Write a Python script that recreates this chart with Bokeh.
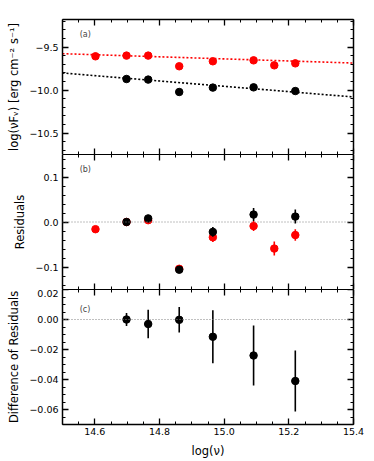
import numpy as np
from bokeh.plotting import figure
from bokeh.layouts import column
from bokeh.models import (Range1d, LinearAxis, SingleIntervalTicker,
                          CustomJSTickFormatter, Label, Span)
from bokeh.embed import file_html
from bokeh.resources import INLINE

# ---------------- data ----------------
x_red = [14.602, 14.698, 14.765, 14.861, 14.965, 15.091, 15.155, 15.220]
flux_red = [-9.608, -9.600, -9.600, -9.724, -9.666, -9.655, -9.713, -9.690]
x_black = [14.698, 14.765, 14.861, 14.965, 15.091, 15.220]
flux_black = [-9.872, -9.879, -10.023, -9.972, -9.969, -10.012]

# linear fits: slope, value at pivot
fit_pivot = 15.0
fit_red = (-0.121, -9.638)
fit_black = (-0.310, -9.957)

res_red = [-0.016, 0.000, 0.004, -0.104, -0.034, -0.009, -0.059, -0.029]
res_red_err = [0.003, 0.003, 0.003, 0.003, 0.0105, 0.011, 0.0155, 0.0127]
res_black = [0.000, 0.008, -0.106, -0.022, 0.0165, 0.012]
res_black_err = [0.003, 0.004, 0.003, 0.011, 0.0145, 0.0156]

diff_res = [0.000, -0.003, -0.0002, -0.0115, -0.024, -0.041]
diff_res_err = [0.0044, 0.0095, 0.0085, 0.0176, 0.020, 0.0204]

x_label = "log(ν)"
ya_label = "log(νFᵥ) [erg cm⁻² s⁻¹]"
yb_label = "Residuals"
yc_label = "Difference of Residuals"

# ---------------- styling helpers ----------------
FONT = "DejaVu Sans"
RED = "#ff0000"


def fmt(digits):
    return CustomJSTickFormatter(args=dict(d=digits), code="""
        if (Math.abs(tick) < 1e-9) { return (0).toFixed(d); }
        return (tick < 0 ? "\\u2212" : "") + Math.abs(tick).toFixed(d);
    """)


def style_axis(ax, labels, lw=1.5):
    ax.major_tick_in = 6
    ax.major_tick_out = 0
    ax.minor_tick_in = 3
    ax.minor_tick_out = 0
    ax.axis_line_width = lw
    ax.axis_line_color = "black"
    ax.major_tick_line_width = 1.3
    ax.minor_tick_line_width = 1.0
    ax.major_label_text_font = FONT
    ax.axis_label_text_font = FONT
    ax.axis_label_text_font_style = "normal"
    ax.axis_label_text_font_size = "11.5px"
    ax.axis_label_text_color = "black"
    if labels:
        ax.major_label_text_color = "black"
        ax.major_label_text_font_size = "9.5px"
        ax.major_label_standoff = 4
        ax.axis_label_standoff = 5
    else:
        ax.major_label_text_color = None
        ax.major_label_text_font_size = "0px"
        ax.major_label_standoff = 0
        ax.axis_label_standoff = 0


xr = Range1d(14.5, 15.4)


def make_panel(yr, y_interval, y_minor, digits, top_border, bottom_labels,
               ylabel, top_lw, bottom_lw):
    p = figure(frame_width=291, frame_height=135, x_range=xr, y_range=yr,
               min_border_left=62, min_border_right=20,
               min_border_top=top_border, min_border_bottom=0,
               output_backend="svg", toolbar_location=None,
               background_fill_color="white", border_fill_color="white")
    p.outline_line_color = None
    p.grid.visible = False
    xt = SingleIntervalTicker(interval=0.2, num_minor_ticks=4)
    yt = SingleIntervalTicker(interval=y_interval, num_minor_ticks=y_minor)

    p.xaxis.ticker = xt
    p.xaxis.formatter = fmt(1)
    p.yaxis.ticker = yt
    p.yaxis.formatter = fmt(digits)
    style_axis(p.xaxis[0], bottom_labels, bottom_lw)
    style_axis(p.yaxis[0], True)
    p.yaxis.axis_label = ylabel
    if bottom_labels:
        p.xaxis.axis_label = x_label
        p.xaxis.major_label_standoff = 3
        p.xaxis.axis_label_standoff = 6

    top = LinearAxis(ticker=xt)
    style_axis(top, False, top_lw)
    p.add_layout(top, "above")
    right = LinearAxis(ticker=yt)
    style_axis(right, False)
    p.add_layout(right, "right")
    return p


# ---------------- panel (a) ----------------
pa = make_panel(Range1d(-10.75, -9.18), 0.5, 5, 1, 19, False, ya_label, 1.5, 1.0)
xs = np.array([xr.start, xr.end])
pa.line(xs, fit_red[1] + fit_red[0] * (xs - fit_pivot), line_color=RED,
        line_dash="2 2", line_width=1.6)
pa.line(xs, fit_black[1] + fit_black[0] * (xs - fit_pivot), line_color="black",
        line_dash="2 2", line_width=1.6)
pa.scatter(x_red, flux_red, size=7.5, color=RED)
pa.scatter(x_black, flux_black, size=7.5, color="black")
pa.add_layout(Label(x=14.553, y=-9.352, text="(a)", text_font=FONT,
                    text_font_size="8px", text_baseline="middle"))

# ---------------- panel (b) ----------------
pb = make_panel(Range1d(-0.15, 0.15), 0.1, 5, 1, 0, False, yb_label, 1.0, 1.0)
pb.add_layout(Span(location=0, dimension="width", line_color="grey",
                   line_dash="1 2", line_width=1))
rr = np.array(res_red)
rre = np.array(res_red_err)
rb = np.array(res_black)
rbe = np.array(res_black_err)
pb.segment(x_red, rr - rre, x_red, rr + rre, line_color=RED, line_width=1.6)
pb.scatter(x_red, res_red, size=7.5, color=RED)
pb.segment(x_black, rb - rbe, x_black, rb + rbe, line_color="black", line_width=1.6)
pb.scatter(x_black, res_black, size=7.5, color="black")
pb.add_layout(Label(x=14.553, y=0.116, text="(b)", text_font=FONT,
                    text_font_size="8px", text_baseline="middle"))

# ---------------- panel (c) ----------------
pc = make_panel(Range1d(-0.07, 0.02), 0.02, 4, 2, 0, True, yc_label, 1.0, 1.5)
pc.add_layout(Span(location=0, dimension="width", line_color="grey",
                   line_dash="1 2", line_width=1))
dr = np.array(diff_res)
dre = np.array(diff_res_err)
pc.segment(x_black, dr - dre, x_black, dr + dre, line_color="black", line_width=1.6)
pc.scatter(x_black, diff_res, size=7.5, color="black")
pc.add_layout(Label(x=14.553, y=0.0068, text="(c)", text_font=FONT,
                    text_font_size="8px", text_baseline="middle"))

layout = column(pa, pb, pc, spacing=0)
open("out.html", "w").write(file_html(layout, INLINE))
